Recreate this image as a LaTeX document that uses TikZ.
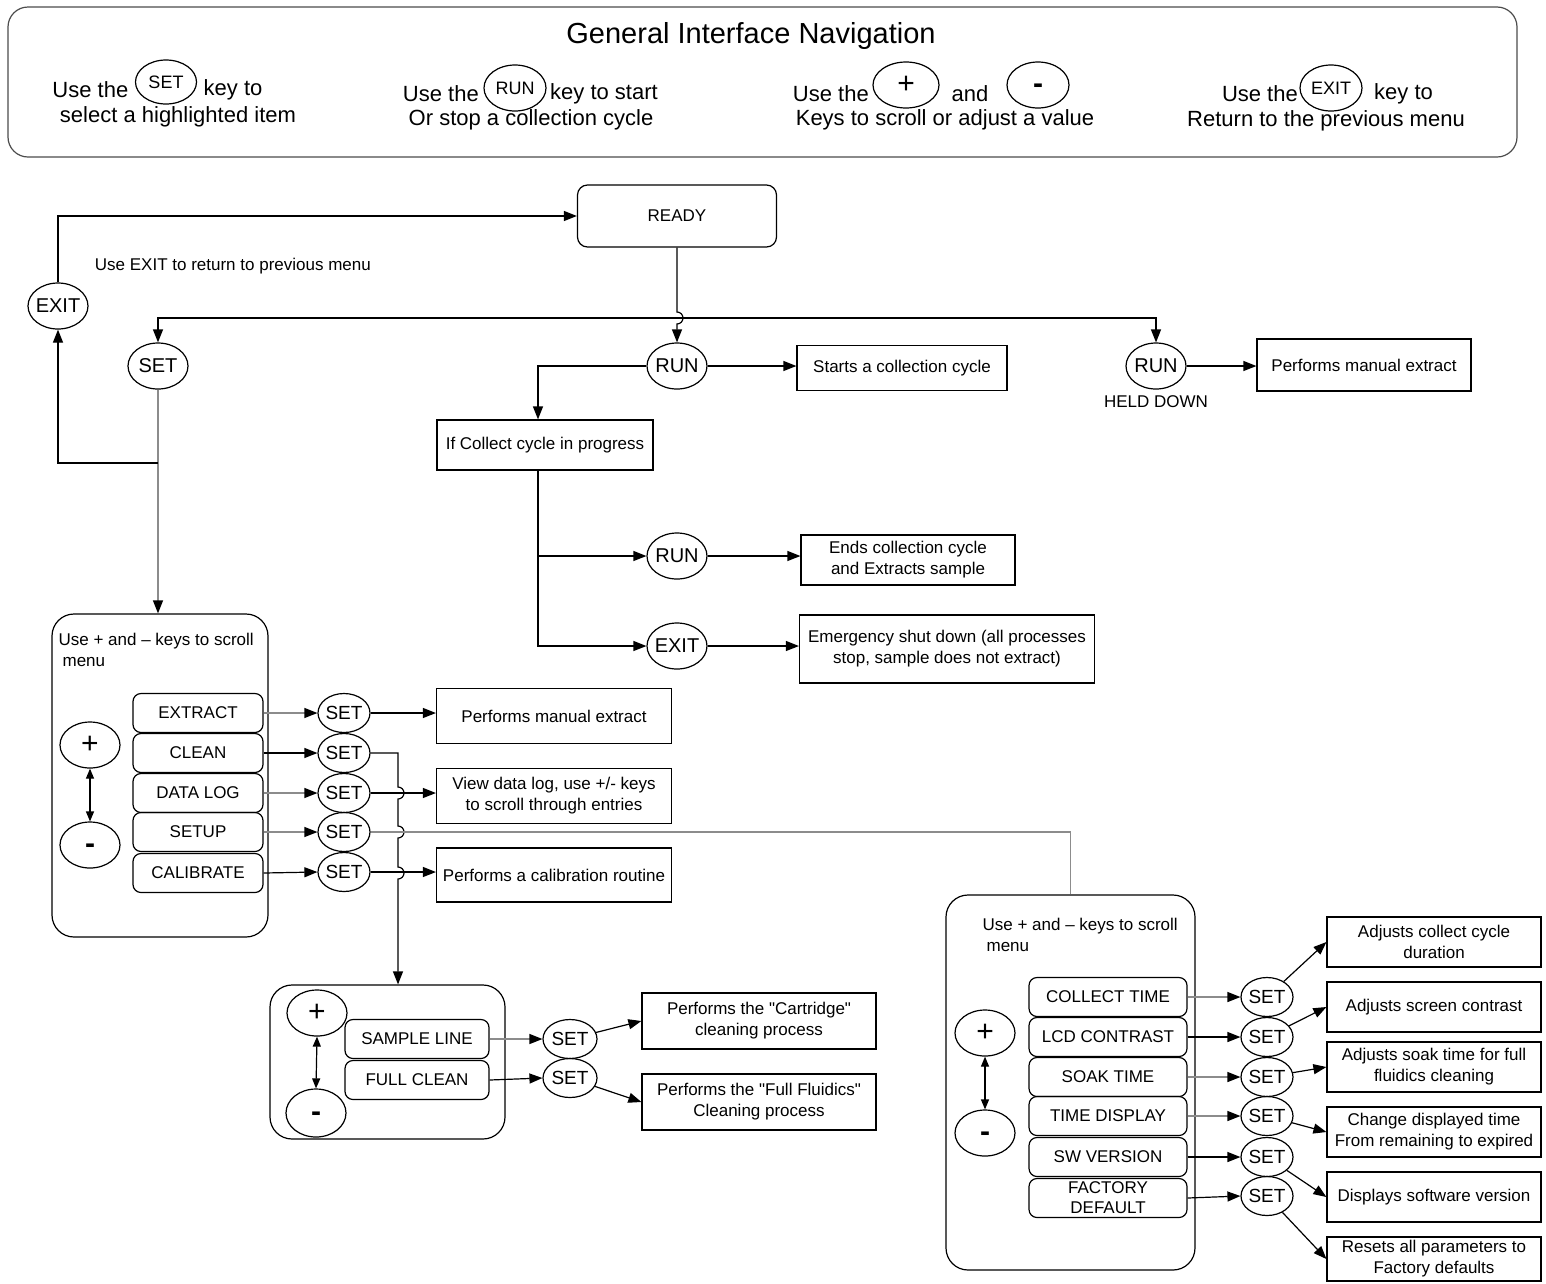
\documentclass[tikz,border=0pt]{standalone}
\usepackage{fontspec}
\setmainfont{Liberation Sans}
\newfontfamily\plainfont{Liberation Sans}
\usetikzlibrary{arrows.meta,positioning,shapes.geometric}
\newcommand{\dq}{{\plainfont"}}
\newcommand{\minuskey}{\vphantom{+}\textbf{-}}
\tikzset{
    key/.style={draw, ellipse, inner sep=0pt, inner xsep=-3pt, minimum width=60pt, minimum height=46pt, font=\fontsize{20}{20}\selectfont},
    skey/.style={key, minimum width=52pt, minimum height=39pt, font=\fontsize{19}{19}\selectfont},
    pmkey/.style={key, minimum width=60pt, minimum height=46pt, font=\fontsize{30}{30}\selectfont},
    topkey/.style={key, minimum width=60pt, minimum height=44pt, font=\fontsize{18}{18}\selectfont},
    toptext/.style={inner sep=1pt, font=\fontsize{22}{22}\selectfont},
    item/.style={draw, rounded corners=8pt, minimum width=#1, minimum height=39pt, inner sep=1pt, align=center, font=\fontsize{17}{19}\selectfont},
    result/.style={draw, minimum width=#1, minimum height=52pt, inner sep=2pt, align=center},
    menubox/.style={draw, rounded corners=22pt},
    arr/.style={-{Triangle[length=13pt,width=10pt]}},
    garr/.style={draw=black!45, -{Triangle[length=13pt,width=10pt,color=black]}},
    dbl/.style={{Triangle[length=10pt,width=8pt]}-{Triangle[length=10pt,width=8pt]}}
}
\begin{document}
\begin{tikzpicture}[x=1pt,y=-1pt,line width=1.2pt,font=\fontsize{17}{21}\selectfont]
\useasboundingbox (0,0) rectangle (1546,1283);
% header
\draw[black!70, rounded corners=20pt] (8,7) rectangle (1517,157); % header frame
\node[font=\fontsize{29}{29}\selectfont] (title) at (751,36) {General Interface Navigation};
\node[topkey, minimum width=61pt] (hset) at (166,82) {SET};
\node[toptext, left=5pt of hset, yshift=-8pt] (hseta) {Use the};
\node[toptext, right=5pt of hset, yshift=-8pt] (hsetb) {key to};
\node[toptext] (hsetc) at (178,117) {select a highlighted item};
\node[topkey, minimum width=62pt, minimum height=46pt] (hrun) at (515,88) {RUN};
\node[toptext, left=3pt of hrun, yshift=-6pt] (hruna) {Use the};
\node[toptext, right=2pt of hrun, yshift=-6pt] (hrunb) {key to start};
\node[toptext] (hrunc) at (531,120) {Or stop a collection cycle};
\node[pmkey, minimum width=66pt, minimum height=46pt] (hplus) at (906,85) {+};
\node[pmkey, minimum width=62pt, minimum height=46pt] (hminus) at (1038,85) {\minuskey};
\node[toptext, left=2pt of hplus, yshift=-9pt] (hplusa) {Use the};
\node[toptext] (hand) at (970,94) {and};
\node[toptext] (hplusc) at (945,120) {Keys to scroll or adjust a value};
\node[topkey, minimum width=62pt, minimum height=46pt] (hexit) at (1331,88) {EXIT};
\node[toptext, left=0pt of hexit, yshift=-6pt] (hexita) {Use the};
\node[toptext, right=10pt of hexit, yshift=-6pt] (hexitb) {key to};
\node[toptext] (hexitc) at (1326,121) {Return to the previous menu};
% main flow
\node[draw, rounded corners=10pt, minimum width=199pt, minimum height=62pt] (ready) at (677,216) {READY};
\node[key] (exit0) at (58,306) {EXIT};
\node[key] (set0) at (158,366) {SET};
\node[key] (run0) at (677,366) {RUN};
\node[key] (runh) at (1156,366) {RUN};
\node[below=2pt of runh] (held) {HELD DOWN};
\node[anchor=west] (exitnote) at (91,266) {Use EXIT to return to previous menu};
\node[result=210pt, minimum height=45pt] (startbox) at (902,368) {Starts a collection cycle};
\node[result=214pt] (manbox) at (1364,365) {Performs manual extract};
\node[result=216pt, minimum height=50pt] (incoll) at (545,445) {If Collect cycle in progress};
\node[key] (run1) at (677,556) {RUN};
\node[key] (exit1) at (677,646) {EXIT};
\node[result=214pt, minimum height=50pt] (endbox) at (908,560) {Ends collection cycle\\and Extracts sample};
\node[result=295pt, minimum height=68pt] (emerg) at (947,649) {Emergency shut down (all processes\\stop, sample does not extract)};
\draw[arr] (exit0.north) |- (ready.west); % back to ready
\draw[arr] (ready.south) -- (677,312) arc[start angle=-90, end angle=90, radius=6] -- (run0.north); % hop over bus
\coordinate (bus) at (677,318);
\draw[arr] (bus) -| (set0.north);
\draw[arr] (bus) -| (runh.north);
\draw[arr] (run0.east) -- (run0.east -| startbox.west);
\draw[arr] (runh.east) -- (runh.east -| manbox.west);
\draw[arr] (run0.west) -| ([xshift=-7pt]incoll.north);
\coordinate (ct) at ([xshift=-7pt]incoll.south);
\draw[arr] (ct) |- (run1.west);
\draw[arr] (ct) |- (exit1.west);
\draw[arr] (run1.east) -- (run1.east -| endbox.west);
\draw[arr] (exit1.east) -- (exit1.east -| emerg.west);
% main menu
\node[menubox, minimum width=216pt, minimum height=323pt] (lmenu) at (160,775.5) {};
\node[anchor=north west, align=left, inner sep=0pt] (lnote) at (58,633) {Use + and – keys to scroll\\\hspace{4pt}menu};
\node[pmkey] (lplus) at (90,745) {+};
\node[pmkey] (lminus) at (90,845) {\minuskey};
\draw[dbl] (lplus.south) -- (lminus.north);
\node[item=130pt] (li1) at (198,713) {EXTRACT};
\node[item=130pt] (li2) at (198,753) {CLEAN};
\node[item=130pt] (li3) at (198,793) {DATA LOG};
\node[item=130pt] (li4) at (198,832) {SETUP};
\node[item=130pt] (li5) at (198,873) {CALIBRATE};
\node[skey] (lk1) at (344,713) {SET};
\node[skey] (lk2) at (344,753) {SET};
\node[skey] (lk3) at (344,793) {SET};
\node[skey] (lk4) at (344,832) {SET};
\node[skey] (lk5) at (344,872) {SET};
\node[result=235pt, minimum height=55pt] (lr1) at (554,716) {Performs manual extract};
\node[result=235pt, minimum height=55pt] (lr2) at (554,796) {View data log, use +/- keys\\to scroll through entries};
\node[result=235pt, minimum height=54pt] (lr3) at (554,875) {Performs a calibration routine};
\draw[garr] (set0.south) -- (set0.south |- lmenu.north);
\coordinate (lbr) at (158,463);
\draw[arr] (lbr) -| (exit0.south);
\draw[garr] (li1.east) -- (lk1.west);
\draw[arr] (li2.east) -- (lk2.west);
\draw[garr] (li3.east) -- (lk3.west);
\draw[garr] (li4.east) -- (lk4.west);
\draw[arr] (li5.east) -- (lk5.west);
\draw[arr] (lk1.east) -- (lk1.east -| lr1.west);
\draw[arr] (lk3.east) -- (lk3.east -| lr2.west);
\draw[arr] (lk5.east) -- (lk5.east -| lr3.west);
% clean submenu
\node[menubox, minimum width=235pt, minimum height=154pt] (cmenu) at (387.5,1062) {};
\coordinate (cv) at (398,753);
\draw[arr] (lk2.east) -- (cv) -- ++(0,34) arc[start angle=-90, end angle=90, radius=6] -- ++(0,27) arc[start angle=-90, end angle=90, radius=6] -- ++(0,29) arc[start angle=-90, end angle=90, radius=6] -- (cv |- cmenu.north); % hops
\node[pmkey] (cplus) at (317,1013) {+};
\node[pmkey, minimum height=48pt] (cminus) at (316,1113) {\minuskey};
\draw[dbl] (cplus.south) -- (cminus.north);
\node[item=144pt] (ci1) at (417,1039) {SAMPLE LINE};
\node[item=144pt] (ci2) at (417,1080) {FULL CLEAN};
\node[skey, minimum width=54pt] (ck1) at (570,1039) {SET};
\node[skey, minimum width=54pt] (ck2) at (570,1078) {SET};
\node[result=234pt, minimum height=56pt] (cr1) at (759,1021) {Performs the \dq Cartridge\dq\\cleaning process};
\node[result=234pt, minimum height=56pt] (cr2) at (759,1102) {Performs the \dq Full Fluidics\dq\\Cleaning process};
\draw[garr] (ci1.east) -- (ck1.west);
\draw[arr] (ci2.east) -- (ck2.west);
\draw[arr] (ck1) -- (cr1.west);
\draw[arr] (ck2) -- (cr2.west);
% setup submenu
\node[menubox, minimum width=249pt, minimum height=375pt] (rmenu) at (1070.5,1082.5) {};
\draw[black!45] (lk4.east) -| (rmenu.north); % setup line
\node[anchor=north west, align=left, inner sep=0pt] (rnote) at (982,918) {Use + and – keys to scroll\\\hspace{4pt}menu};
\node[pmkey] (rplus) at (985,1033) {+};
\node[pmkey] (rminus) at (985,1133) {\minuskey};
\draw[dbl] (rplus.south) -- (rminus.north);
\node[item=158pt] (ri1) at (1108,997) {COLLECT TIME};
\node[item=158pt] (ri2) at (1108,1037) {LCD CONTRAST};
\node[item=158pt] (ri3) at (1108,1077) {SOAK TIME};
\node[item=158pt] (ri4) at (1108,1116) {TIME DISPLAY};
\node[item=158pt] (ri5) at (1108,1157) {SW VERSION};
\node[item=158pt, font=\fontsize{17}{20}\selectfont] (ri6) at (1108,1198) {FACTORY\\DEFAULT};
\node[skey] (rk1) at (1267,997) {SET};
\node[skey] (rk2) at (1267,1037) {SET};
\node[skey] (rk3) at (1267,1077) {SET};
\node[skey] (rk4) at (1267,1116) {SET};
\node[skey] (rk5) at (1267,1157) {SET};
\node[skey] (rk6) at (1267,1196) {SET};
\node[result=214pt, minimum height=50pt] (rr1) at (1434,942) {Adjusts collect cycle\\duration};
\node[result=214pt, minimum height=50pt] (rr2) at (1434,1007) {Adjusts screen contrast};
\node[result=214pt, minimum height=50pt] (rr3) at (1434,1067) {Adjusts soak time for full\\fluidics cleaning};
\node[result=214pt, minimum height=50pt] (rr4) at (1434,1132) {Change displayed time\\From remaining to expired};
\node[result=214pt, minimum height=50pt] (rr5) at (1434,1197) {Displays software version};
\node[result=214pt, minimum height=44pt, inner sep=1pt] (rr6) at (1434,1259) {Resets all parameters to\\Factory defaults};
\draw[garr] (ri1.east) -- (rk1.west);
\draw[arr] (ri2.east) -- (rk2.west);
\draw[garr] (ri3.east) -- (rk3.west);
\draw[garr] (ri4.east) -- (rk4.west);
\draw[arr] (ri5.east) -- (rk5.west);
\draw[arr] (ri6.east) -- (rk6.west);
\draw[arr] (rk1) -- (rr1.west);
\draw[arr] (rk2) -- (rr2.west);
\draw[arr] (rk3) -- (rr3.west);
\draw[arr] (rk4) -- (rr4.west);
\draw[arr] (rk5) -- (rr5.west);
\draw[arr] (rk6) -- (rr6.west);
\end{tikzpicture}
\end{document}
